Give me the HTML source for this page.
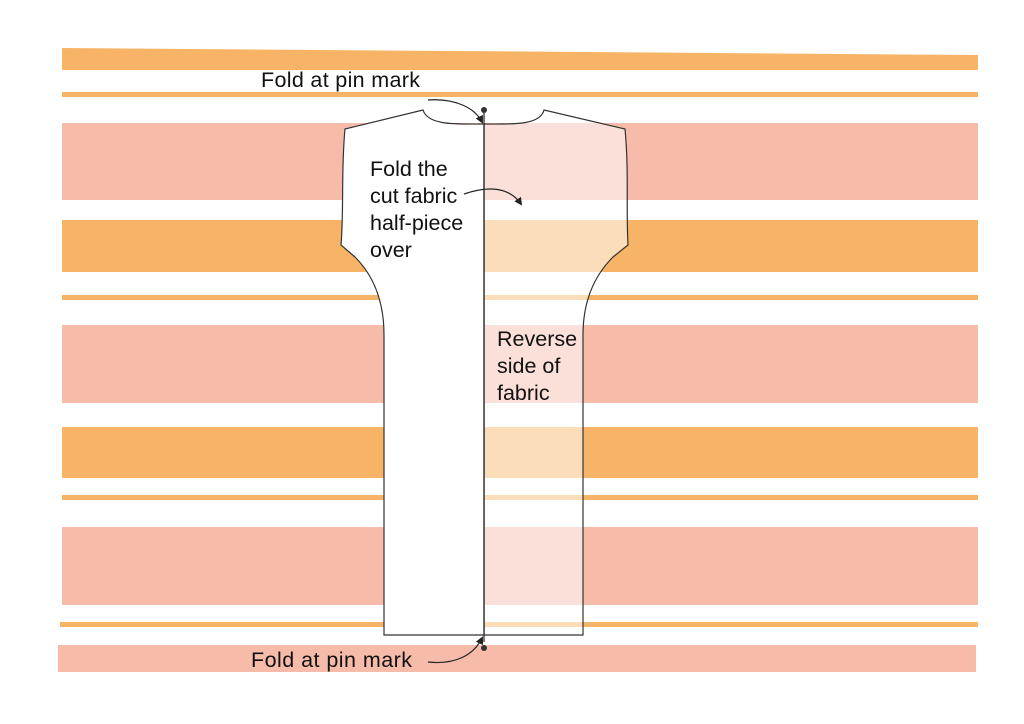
<!DOCTYPE html>
<html><head><meta charset="utf-8"><style>
html,body{margin:0;padding:0;background:#fff}
svg{display:block}
text{font-family:"Liberation Sans",sans-serif;font-size:21.5px;fill:#111}
</style></head><body>
<svg width="1024" height="724" viewBox="0 0 1024 724" xmlns="http://www.w3.org/2000/svg">
<defs><marker id="a" markerWidth="8" markerHeight="8" refX="6" refY="4" orient="auto" markerUnits="userSpaceOnUse"><path d="M0,0 L8,4 L0,8 Z" fill="#222"/></marker></defs>
<g>
<polygon points="62,48 978,55 978,70 62,70" fill="#f7b466"/>
<rect x="62" y="92" width="916" height="5" fill="#f7b466"/>
<rect x="62" y="123" width="916" height="77" fill="#f7bbaa"/>
<rect x="62" y="220" width="916" height="52" fill="#f7b466"/>
<rect x="62" y="295" width="916" height="5" fill="#f7b466"/>
<rect x="62" y="325" width="916" height="78" fill="#f7bbaa"/>
<rect x="62" y="427" width="916" height="51" fill="#f7b466"/>
<rect x="62" y="495" width="916" height="5" fill="#f7b466"/>
<rect x="62" y="527" width="916" height="78" fill="#f7bbaa"/>
<rect x="60" y="622" width="918" height="5" fill="#f7b466"/>
<rect x="58" y="645" width="918" height="27" fill="#f7bbaa"/>
</g>
<path d="M484,124 C510,124 540,126 544,110 L625,129 C629,170 626,210 628,245 L613,257 C595,275 583,300 583,335 L583,635 L484,635 Z" fill="#fff" fill-opacity="0.55" stroke="#333" stroke-width="1.2"/>
<path d="M484,124 C458,124 428,126 423,110 L345,129 C341,170 344,210 341,245 L355,257 C373,275 384,300 384,335 L384,635 L484,635 Z" fill="#fff" stroke="#333" stroke-width="1.2"/>
<line x1="484" y1="110" x2="484" y2="642" stroke="#333" stroke-width="1.3"/>
<circle cx="484" cy="110" r="3" fill="#333"/>
<circle cx="484" cy="648" r="3" fill="#333"/>
<path d="M428,100 C455,98 475,108 482,122" fill="none" stroke="#222" stroke-width="1.2" marker-end="url(#a)"/>
<path d="M464,194 C490,185 510,188 521,204" fill="none" stroke="#222" stroke-width="1.2" marker-end="url(#a)"/>
<path d="M428,662 C455,665 474,655 482,638" fill="none" stroke="#222" stroke-width="1.2" marker-end="url(#a)"/>
<text x="261" y="87" textLength="159">Fold at pin mark</text>
<text x="251" y="667" textLength="161">Fold at pin mark</text>
<text x="370" y="176">Fold the</text>
<text x="370" y="203">cut fabric</text>
<text x="370" y="230">half-piece</text>
<text x="370" y="257">over</text>
<text x="497" y="346">Reverse</text>
<text x="497" y="373">side of</text>
<text x="497" y="400">fabric</text>
</svg>
</body></html>
